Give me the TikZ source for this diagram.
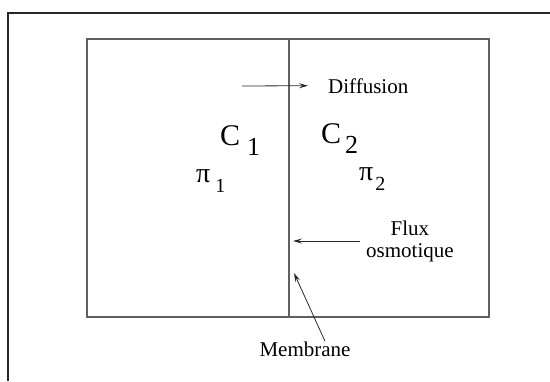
\documentclass[tikz,border=0pt]{standalone}
\usepackage{fontspec}
\setmainfont{Liberation Serif}
\usepackage{tikz}
\usetikzlibrary{arrows.meta,positioning,calc}
\definecolor{inkgrey}{RGB}{40,40,40}
\definecolor{wallgrey}{RGB}{95,95,95}
\newcommand{\indice}[4][3pt]{{\fontsize{#2}{#2}\selectfont #3}\kern#1\raisebox{-10pt}{#4}}

\begin{document}
\begin{tikzpicture}[x=1pt,y=-1pt,
    fleche/.style={-{Stealth[length=9pt,width=5pt,inset=3.5pt]},line width=0.8pt,inkgrey},
    etiquette/.style={inner sep=0pt,font=\fontsize{21}{22}\selectfont,align=center},
    grand/.style={inner sep=0pt,font=\fontsize{26}{28}\selectfont},
    grec/.style={inner sep=0pt,font=\fontsize{20}{22}\selectfont}]
    \useasboundingbox (0,0) rectangle (550,381);
    \draw[line width=1.6pt,black!85] (8,381) -- (8,13) -- (550,13);
    \draw[line width=1.1pt,wallgrey] (87,39) rectangle (489,317);
    \coordinate (memhaut) at (289,38);
    \coordinate (membas) at (289,318);
    \draw[line width=2.4pt,wallgrey] (memhaut) -- (membas);

    \node[grand,anchor=base west] (c1) at (220,145) {\indice[7pt]{30}{C}{1}};
    \node[grand,anchor=base west] (c2) at (321,143) {\indice[4pt]{30}{C}{2}};
    \node[grec,anchor=base west] (pi1) at (196,182) {\indice[5pt]{28}{π}{1}};
    \node[grec,anchor=base west] (pi2) at (359,180) {\indice[2pt]{28}{π}{2}};

    \node[etiquette,anchor=base west] (diff) at (328,93) {Diffusion};
    \node[etiquette,anchor=west] (flux) at (366,241) {Flux\\osmotique};
    \node[etiquette,anchor=base] (memb) at (305,356) {Membrane};

    \coordinate (diffdep) at (242,86);
    \draw[fleche] (diffdep) -- ([xshift=-20pt]diff.west);
    \draw[fleche] ([xshift=-6pt]flux.west) -- ($(membas |- flux.west)+(4,0)$);
    \draw[fleche] ([xshift=20pt]memb.north) -- ($(membas)+(5,-45)$);
\end{tikzpicture}
\end{document}
